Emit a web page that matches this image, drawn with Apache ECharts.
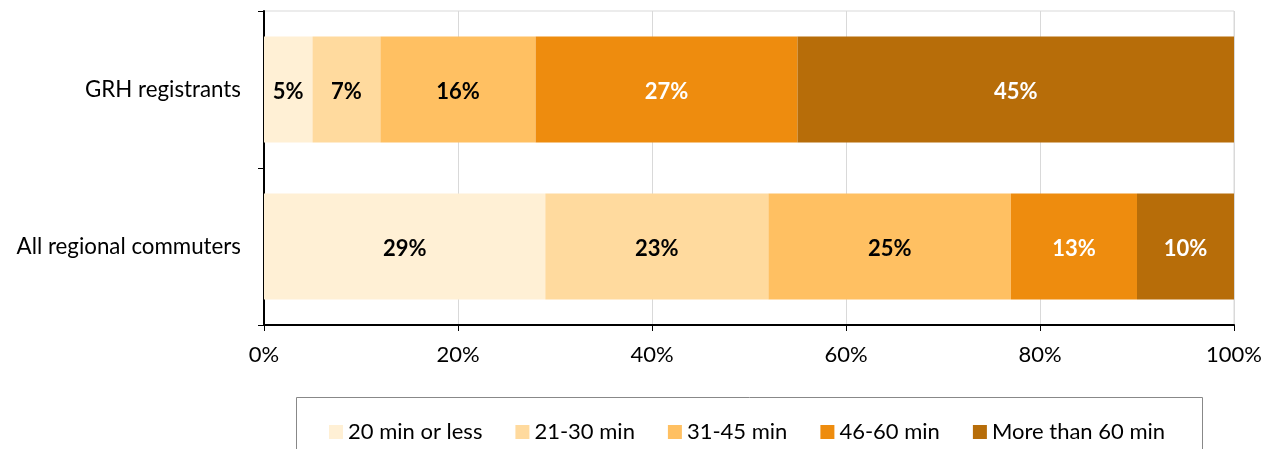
<!DOCTYPE html>
<html><head><meta charset="utf-8">
<script src="https://cdn.jsdelivr.net/npm/echarts@6/dist/echarts.min.js"></script>
<style>html,body{margin:0;padding:0;background:#fff}#c{width:1270px;height:449px}</style>
</head><body><div id="c"></div>
<script>
const categories = ["All regional commuters", "GRH registrants"];
const seriesNames = ["20 min or less", "21-30 min", "31-45 min", "46-60 min", "More than 60 min"];
const v20less = [29, 5];
const v21to30 = [23, 7];
const v31to45 = [25, 16];
const v46to60 = [13, 27];
const vOver60 = [10, 45];
const xTicks = [0, 20, 40, 60, 80, 100];

const colors = ["#FFF0D5", "#FFDA9E", "#FFC062", "#EE8C0E", "#B76D09"];
const labelColors = ["#000", "#000", "#000", "#fff", "#fff"];
const values = [v20less, v21to30, v31to45, v46to60, vOver60];
const FONT = "Lato";

const chart = echarts.init(document.getElementById('c'), null, {renderer: 'canvas'});
chart.setOption({
  animation: false,
  textStyle: {fontFamily: FONT},
  grid: {left: 264, right: 36, top: 11, bottom: 124, show: true, borderColor: '#D9D9D9', borderWidth: 1},
  xAxis: {
    type: 'value', min: xTicks[0], max: xTicks[xTicks.length - 1], interval: xTicks[1] - xTicks[0],
    axisLine: {show: true, lineStyle: {color: '#000', width: 2}},
    axisTick: {show: true, length: 6, lineStyle: {color: '#000'}},
    axisLabel: {formatter: v => v + '%', fontSize: 22, color: '#000', margin: 19, fontFamily: FONT},
    splitLine: {show: true, lineStyle: {color: '#D9D9D9', width: 1}}
  },
  yAxis: {
    type: 'category', data: categories,
    axisLine: {show: true, lineStyle: {color: '#000', width: 2}},
    axisTick: {show: true, length: 6, lineStyle: {color: '#000'}},
    axisLabel: {fontSize: 22.3, color: '#000', margin: 23, fontFamily: FONT},
    splitLine: {show: false}
  },
  legend: {
    left: 324, top: 416, itemWidth: 14, itemHeight: 14, itemGap: 33,
    icon: 'rect',
    textStyle: {fontSize: 22, color: '#000', fontFamily: FONT},
    data: seriesNames
  },
  graphic: [{
    type: 'rect', shape: {x: 296.5, y: 397.5, width: 906, height: 80},
    style: {fill: 'none', stroke: '#888', lineWidth: 1}, silent: true, z: -1
  }],
  series: seriesNames.map((n, i) => ({
    name: n, type: 'bar', stack: 'total', barWidth: 106,
    data: values[i],
    itemStyle: {color: colors[i]},
    label: {show: true, position: 'inside', offset: [0, 2], formatter: p => p.value + '%', fontSize: 22, fontWeight: 'bold', color: labelColors[i], fontFamily: FONT}
  }))
});
</script></body></html>
